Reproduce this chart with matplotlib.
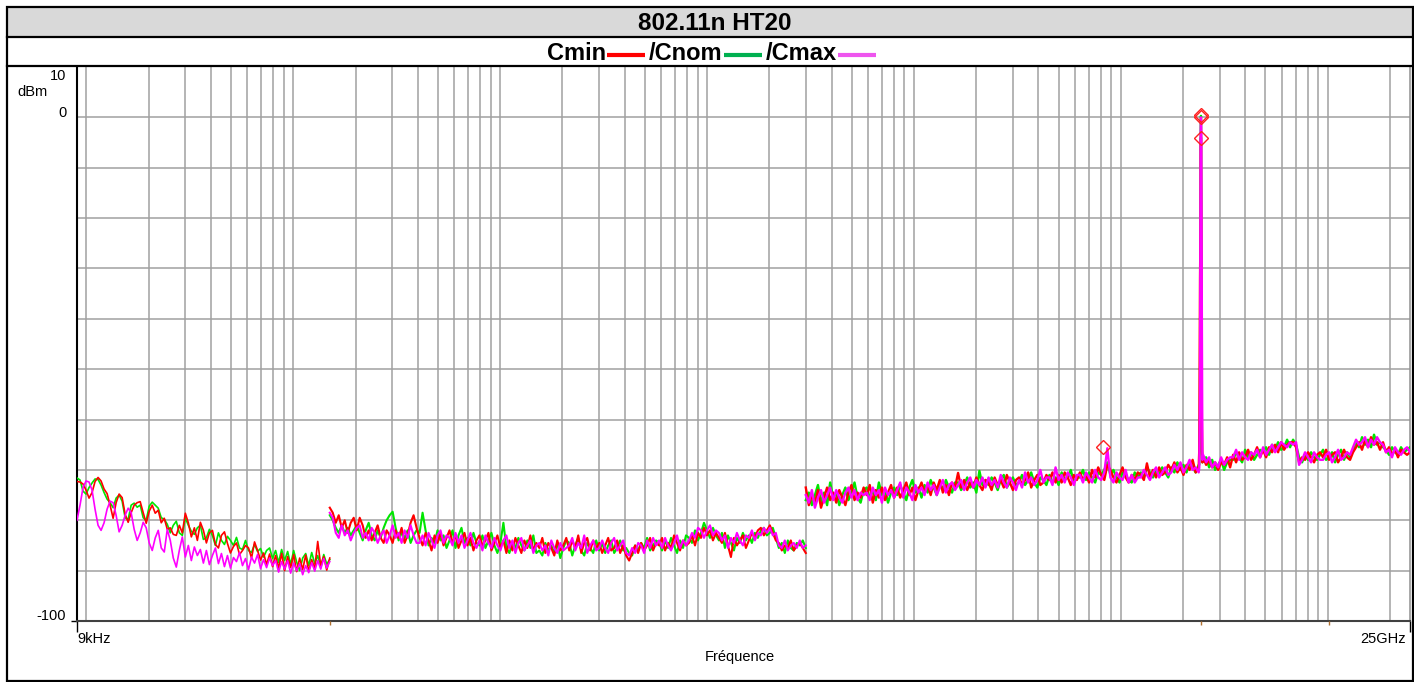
import numpy as np
import matplotlib
matplotlib.use("Agg")
import matplotlib.pyplot as plt
from matplotlib.lines import Line2D
from matplotlib.patches import Rectangle
from matplotlib.transforms import blended_transform_factory

plt.rcParams['font.family'] = ['Liberation Sans', 'DejaVu Sans']

# ---------------- data ----------------
TITLE = "802.11n HT20"
SERIES_NAMES = ["Cmin", "/Cnom", "/Cmax"]
X_LABEL = "Fréquence"
Y_UNIT = "dBm"
X_TICK_LABELS = ["9kHz", "25GHz"]
F_START = 9e3
F_STOP = 25e9

# segment edges (Hz)
seg1_range = [9e3, 150e3]
seg2_range = [150e3, 30e6]
seg3a_range = [30e6, 2.38e9]
seg3b_range = [2.5e9, 25e9]

# ---- segment 1 : 9 kHz - 150 kHz (dBm)
seg1_cmin = [-72.3,-72.4,-72.8,-74.0,-75.6,-74.5,-72.3,-71.5,-72.2,-73.8,
             -74.7,-77.0,-79.6,-76.5,-74.8,-75.5,-78.8,-80.4,-78.5,-77.0,
             -76.5,-76.3,-78.5,-80.6,-78.2,-77.0,-78.6,-78.0,-80.5,-79.6,
             -81.8,-81.5,-82.8,-83.0,-81.0,-82.5,-78.6,-80.5,-83.3,-81.5,
             -84.0,-80.4,-82.0,-84.5,-82.5,-82.0,-84.8,-85.5,-83.0,-82.3,
             -84.6,-86.5,-85.2,-84.5,-86.8,-86.0,-85.0,-85.5,-87.5,-84.3,
             -86.0,-87.9,-86.5,-88.8,-86.7,-89.2,-87.0,-89.5,-86.6,-90.0,
             -87.2,-89.4,-86.8,-90.2,-87.5,-89.8,-86.9,-90.1,-87.8,-89.6,
             -84.2,-89.0,-87.2,-89.9,-87.5]
seg1_cnom = [-71.6,-72.0,-74.2,-74.8,-73.5,-72.6,-71.8,-71.9,-73.0,-74.5,
             -75.8,-76.5,-77.5,-75.6,-75.0,-76.2,-79.5,-79.8,-77.0,-76.6,
             -77.4,-77.0,-79.5,-80.0,-77.2,-76.4,-77.0,-77.6,-79.5,-79.8,
             -80.8,-82.5,-81.0,-80.2,-82.5,-83.0,-79.5,-81.0,-82.2,-82.8,
             -81.5,-81.0,-83.8,-83.5,-81.8,-83.0,-85.0,-82.5,-84.0,-84.8,
             -83.2,-84.0,-85.0,-83.4,-85.5,-85.8,-84.0,-86.0,-86.4,-84.8,
             -86.2,-85.6,-87.3,-86.0,-85.5,-87.6,-86.0,-88.4,-85.8,-88.0,
             -86.2,-88.8,-86.0,-88.3,-90.0,-87.5,-86.6,-89.0,-86.4,-88.6,
             -87.0,-89.4,-86.8,-88.7,-87.8]
seg1_cmax = [-80.0,-77.0,-73.5,-72.2,-72.4,-74.0,-77.8,-81.0,-82.0,-80.5,
             -77.8,-76.2,-76.5,-79.0,-82.3,-81.0,-79.0,-77.6,-78.5,-81.8,
             -84.0,-82.5,-80.4,-81.5,-84.5,-86.0,-83.5,-82.0,-85.5,-86.3,
             -81.8,-84.0,-87.5,-89.3,-86.0,-83.3,-87.3,-85.0,-88.0,-85.3,
             -87.0,-85.8,-88.5,-86.0,-88.8,-87.0,-85.5,-88.6,-86.6,-89.2,
             -87.0,-89.5,-87.4,-88.2,-86.4,-89.0,-87.6,-89.8,-87.3,-88.5,
             -86.8,-89.6,-87.8,-89.4,-87.5,-89.0,-88.0,-90.3,-88.2,-89.7,
             -88.0,-90.5,-88.5,-90.0,-88.6,-90.8,-89.0,-90.4,-88.4,-90.1,
             -88.0,-89.7,-87.6,-89.5,-88.2]

# ---- segment 2 : 150 kHz - 30 MHz (dBm)
seg2_cmin = [-77.5,-78.5,-80.5,-79.0,-81.5,-80.0,-82.5,-80.5,-79.5,-82.0,
             -79.5,-81.0,-83.5,-82.0,-84.0,-82.5,-81.0,-83.5,-84.5,-82.0,
             -83.0,-84.5,-82.0,-83.5,-81.5,-84.5,-83.0,-80.5,-79.0,-81.5,
             -83.5,-85.0,-82.5,-84.0,-86.0,-83.0,-84.5,-82.5,-85.0,-83.5,
             -82.0,-84.5,-83.0,-85.5,-84.0,-82.5,-85.0,-83.5,-86.0,-84.0,
             -83.0,-85.0,-84.0,-82.5,-86.0,-84.5,-83.0,-85.5,-84.0,-86.5,
             -84.0,-86.0,-83.5,-85.0,-86.5,-84.0,-85.5,-83.0,-86.0,-84.5,
             -85.5,-83.5,-86.5,-84.5,-85.5,-87.0,-84.0,-86.0,-85.0,-83.5,
             -86.0,-84.0,-85.5,-83.0,-86.5,-84.5,-83.5,-86.0,-84.0,-85.5,
             -84.5,-86.5,-85.0,-83.5,-86.0,-85.5,-84.0,-86.5,-85.0,-87.0,
             -88.0,-86.5,-85.0,-86.5,-84.5,-86.0,-85.0,-83.5,-86.0,-84.5,
             -85.0,-83.5,-86.0,-84.5,-85.5,-83.0,-84.5,-86.0,-84.0,-85.0,
             -84.5,-83.0,-85.0,-82.5,-83.5,-81.5,-83.0,-82.0,-84.0,-82.5,
             -83.5,-84.5,-82.5,-85.0,-87.3,-83.5,-85.0,-84.0,-83.0,-85.5,
             -84.0,-82.5,-83.5,-82.0,-81.5,-83.0,-82.0,-81.0,-82.5,-84.0,
             -84.5,-86.0,-85.0,-85.5,-84.0,-86.0,-85.0,-84.5,-85.5,-86.5]
seg2_cnom = [-79.0,-80.0,-81.5,-82.5,-81.0,-82.5,-81.5,-83.0,-82.0,-81.0,
             -82.5,-84.0,-82.0,-80.5,-83.0,-84.0,-82.0,-83.5,-81.5,-80.0,
             -79.0,-78.3,-81.5,-84.0,-82.5,-83.5,-82.0,-84.5,-83.0,-82.0,
             -82.5,-78.5,-82.0,-85.0,-83.5,-84.5,-82.0,-84.0,-83.0,-85.5,
             -84.0,-82.0,-85.5,-83.0,-81.5,-84.5,-83.5,-85.0,-82.5,-84.5,
             -85.0,-83.0,-85.5,-84.0,-82.5,-85.0,-86.5,-84.5,-80.5,-85.5,
             -86.5,-84.5,-85.5,-83.5,-85.0,-86.0,-84.0,-85.5,-83.0,-86.5,
             -86.0,-87.0,-84.5,-86.0,-85.0,-86.5,-84.5,-87.5,-85.5,-84.0,
             -84.5,-87.0,-85.0,-83.5,-86.0,-87.0,-84.5,-85.5,-86.5,-84.0,
             -86.0,-84.5,-86.5,-85.0,-84.0,-86.5,-85.5,-84.0,-86.0,-85.5,
             -86.5,-87.0,-85.0,-86.0,-84.5,-85.5,-83.5,-86.0,-85.0,-84.0,
             -84.5,-86.0,-84.0,-85.5,-83.5,-85.0,-86.5,-84.0,-85.5,-83.0,
             -83.5,-84.5,-82.0,-84.0,-82.5,-80.5,-82.0,-83.5,-81.5,-83.0,
             -84.0,-82.5,-85.5,-83.0,-84.5,-86.0,-83.5,-84.5,-82.5,-84.0,
             -83.0,-84.5,-82.5,-83.5,-82.0,-81.5,-83.0,-82.5,-81.5,-83.5,
             -85.5,-84.5,-86.5,-84.0,-85.5,-86.0,-84.5,-85.0,-84.0,-85.5]
seg2_cmax = [-78.5,-79.5,-82.5,-83.5,-81.0,-83.0,-82.0,-84.0,-82.5,-81.5,
             -81.0,-83.5,-82.5,-84.0,-81.5,-82.5,-84.5,-83.0,-82.0,-84.5,
             -83.0,-81.0,-83.5,-82.5,-84.5,-82.0,-83.5,-81.0,-83.0,-84.5,
             -84.5,-83.0,-85.0,-82.5,-84.0,-85.5,-83.0,-82.0,-84.5,-83.0,
             -83.5,-85.0,-82.5,-84.5,-83.0,-85.5,-84.0,-82.5,-84.5,-85.5,
             -84.0,-86.0,-83.0,-84.5,-85.5,-83.5,-85.0,-86.0,-84.0,-83.0,
             -85.5,-84.0,-86.5,-84.5,-83.5,-86.0,-85.0,-84.0,-86.5,-85.0,
             -84.5,-86.0,-85.0,-87.0,-84.0,-85.5,-86.5,-84.5,-86.0,-85.5,
             -85.0,-83.5,-86.0,-84.5,-85.5,-83.0,-86.5,-85.0,-84.0,-86.0,
             -85.5,-84.0,-85.5,-86.5,-84.5,-83.5,-86.0,-85.0,-84.0,-86.5,
             -87.0,-85.5,-86.5,-84.5,-85.0,-86.5,-84.0,-85.5,-83.5,-85.0,
             -84.0,-85.5,-83.5,-85.0,-86.0,-84.5,-83.0,-85.5,-84.0,-85.0,
             -84.0,-82.5,-83.5,-81.5,-82.0,-83.5,-82.0,-81.0,-83.0,-82.0,
             -82.5,-84.0,-83.0,-85.5,-83.5,-84.5,-82.5,-84.0,-85.0,-83.0,
             -83.5,-82.0,-84.0,-82.5,-83.0,-81.5,-82.5,-81.5,-83.0,-82.5,
             -85.0,-85.5,-84.0,-86.0,-85.0,-84.5,-85.5,-84.0,-85.5,-85.0]

# ---- segment 3a : 30 MHz - 2.38 GHz (dBm)
seg3a_cmin = [-73.5,-77.0,-75.0,-76.5,-74.0,-77.5,-75.5,-73.5,-76.0,-74.5,
              -76.5,-74.0,-75.5,-77.0,-74.5,-73.0,-76.0,-74.5,-75.5,-73.5,
              -75.0,-73.0,-76.5,-74.0,-75.5,-73.5,-76.0,-74.5,-73.0,-75.5,
              -73.5,-75.5,-74.0,-72.5,-75.0,-73.5,-76.0,-74.0,-72.5,-74.5,
              -73.0,-75.0,-72.5,-74.0,-72.0,-74.5,-73.0,-75.0,-72.5,-73.5,
              -70.6,-73.5,-72.0,-74.0,-72.5,-73.5,-71.5,-73.0,-74.0,-72.0,
              -72.5,-74.0,-71.5,-73.0,-72.0,-73.5,-71.0,-72.5,-74.0,-72.0,
              -71.5,-73.0,-72.0,-70.5,-73.5,-72.0,-71.0,-73.0,-72.5,-71.0,
              -72.0,-70.5,-72.5,-71.0,-72.5,-70.5,-71.5,-73.0,-71.0,-72.0,
              -70.5,-72.0,-71.0,-72.5,-70.0,-71.5,-69.5,-71.0,-72.0,-69.0,
              -70.0,-71.5,-72.5,-71.0,-69.5,-71.5,-72.5,-71.0,-72.0,-70.5,
              -71.0,-72.0,-68.7,-71.5,-70.0,-71.5,-69.5,-71.0,-70.5,-69.0,
              -70.0,-68.5,-70.5,-69.5,-71.0,-69.0,-70.0,-68.0,-70.5,-69.5]
seg3a_cnom = [-76.0,-74.5,-77.0,-75.0,-73.0,-76.5,-74.5,-77.0,-72.5,-75.5,
              -74.5,-77.0,-75.0,-73.5,-76.0,-74.5,-72.5,-75.5,-76.5,-74.0,
              -73.5,-75.5,-74.0,-76.0,-72.5,-75.0,-74.0,-76.5,-74.5,-73.5,
              -75.0,-73.0,-74.5,-76.0,-73.5,-72.0,-74.5,-73.5,-75.5,-73.0,
              -74.5,-72.0,-73.5,-75.0,-72.5,-74.0,-72.0,-73.5,-74.5,-72.5,
              -72.5,-74.0,-73.0,-71.5,-73.5,-72.5,-74.5,-70.2,-73.0,-72.0,
              -73.0,-71.5,-72.5,-74.0,-72.0,-71.0,-73.5,-72.5,-71.5,-73.0,
              -72.5,-71.0,-73.0,-72.0,-70.5,-72.5,-73.5,-71.5,-72.0,-73.0,
              -71.0,-72.5,-71.5,-73.0,-70.5,-72.0,-71.5,-70.0,-72.5,-71.5,
              -71.5,-70.0,-72.0,-70.5,-71.5,-72.5,-70.5,-71.0,-70.0,-68.5,
              -71.0,-70.0,-71.5,-72.5,-70.5,-71.0,-72.0,-72.5,-70.5,-71.5,
              -70.5,-71.5,-69.5,-70.5,-71.5,-70.0,-71.0,-69.5,-70.5,-71.5,
              -69.5,-70.5,-68.5,-70.0,-69.0,-70.5,-68.5,-69.5,-70.5,-69.0]
seg3a_cmax = [-75.0,-76.5,-74.0,-77.5,-75.5,-74.0,-76.5,-75.0,-73.5,-76.0,
              -74.0,-75.5,-76.5,-74.5,-73.5,-75.5,-74.0,-76.0,-74.5,-75.0,
              -74.5,-76.0,-73.5,-75.0,-74.0,-76.5,-73.5,-75.0,-74.0,-75.5,
              -74.0,-72.5,-75.5,-73.5,-74.5,-76.0,-73.0,-74.5,-73.5,-75.0,
              -72.5,-74.0,-73.0,-75.0,-73.5,-72.0,-74.5,-73.0,-72.5,-74.0,
              -73.0,-72.0,-74.0,-72.5,-71.5,-73.5,-72.0,-73.0,-71.5,-73.5,
              -71.5,-73.0,-72.0,-73.5,-71.0,-72.5,-73.5,-71.5,-72.5,-74.0,
              -72.0,-73.5,-70.5,-72.5,-71.5,-73.0,-72.0,-70.0,-72.5,-71.5,
              -71.5,-73.0,-69.5,-72.0,-71.0,-72.5,-70.5,-71.5,-73.0,-71.0,
              -71.0,-72.5,-70.5,-71.5,-72.5,-70.0,-71.5,-72.0,-70.5,-65.7,
              -71.5,-72.5,-70.5,-71.5,-72.0,-70.0,-72.5,-71.0,-72.5,-71.5,
              -71.5,-70.0,-71.0,-72.0,-70.5,-69.5,-71.5,-70.5,-69.5,-71.0,
              -70.5,-69.0,-70.0,-68.5,-70.5,-69.5,-68.0,-70.0,-69.5,-70.5]

# ---- carrier region (Hz, dBm)
peak_f = [2.395e9, 2.415e9, 2.430e9, 2.440e9, 2.450e9, 2.465e9, 2.480e9]
peak_cmin = [-66.0, -32.0, -20.0, -4.0, -25.0, -60.0, -68.5]
peak_cnom = [-69.0, -60.0, -10.0, 0.3, -15.0, -66.0, -68.5]
peak_cmax = [-69.5, -55.0, -3.0, 0.0, -2.0, -40.0, -68.0]

# ---- segment 3b : 2.5 GHz - 25 GHz (dBm)
seg3b_cmin = [-67.5,-69.0,-68.0,-69.5,-68.5,-70.0,-68.5,-69.0,-67.5,-69.5,
              -67.0,-68.5,-66.5,-68.0,-67.5,-66.0,-68.0,-67.0,-65.5,-67.5,
              -66.0,-67.5,-65.5,-66.5,-65.0,-66.5,-64.5,-66.0,-65.0,-64.5,
              -64.5,-65.5,-68.5,-67.5,-68.0,-66.5,-67.5,-68.5,-67.0,-66.5,
              -67.5,-66.0,-68.0,-67.0,-66.5,-68.5,-67.5,-66.0,-67.5,-68.0,
              -66.5,-65.5,-64.5,-66.0,-64.0,-65.5,-63.5,-65.0,-64.5,-66.0,
              -64.5,-66.5,-65.5,-67.0,-66.0,-67.5,-66.0,-66.5,-67.0,-66.5]
seg3b_cnom = [-68.0,-67.5,-69.5,-68.0,-70.0,-69.0,-68.0,-70.0,-68.5,-68.0,
              -68.0,-66.5,-67.5,-68.5,-66.0,-67.5,-66.5,-68.0,-67.0,-66.0,
              -66.5,-65.5,-67.0,-65.0,-66.0,-64.5,-66.0,-65.5,-64.0,-65.5,
              -64.0,-65.0,-67.5,-68.5,-67.0,-68.0,-66.5,-67.5,-68.0,-67.0,
              -66.0,-68.0,-67.5,-66.5,-68.5,-67.0,-66.0,-68.0,-66.5,-67.5,
              -66.0,-64.5,-65.5,-63.5,-65.0,-64.0,-65.5,-63.0,-65.0,-64.5,
              -65.5,-66.0,-67.0,-65.5,-66.5,-67.0,-65.5,-66.5,-66.0,-65.5]
seg3b_cmax = [-67.0,-68.5,-67.5,-69.5,-68.5,-69.5,-67.5,-69.0,-68.0,-67.5,
              -67.5,-66.0,-68.0,-66.5,-67.5,-68.0,-66.5,-67.0,-66.0,-67.5,
              -65.5,-67.0,-66.0,-65.0,-66.5,-65.5,-64.5,-65.0,-65.5,-64.5,
              -65.0,-64.5,-69.0,-68.0,-66.5,-67.5,-68.5,-66.5,-67.5,-68.0,
              -68.0,-67.0,-66.5,-68.5,-67.5,-66.0,-68.0,-67.5,-66.5,-67.0,
              -65.5,-64.0,-65.0,-64.5,-63.5,-65.5,-64.0,-65.0,-63.5,-64.5,
              -65.0,-66.5,-66.0,-67.5,-65.5,-66.5,-67.0,-66.0,-65.5,-66.5]

# markers (Hz, dBm)
marker_f = [820e6, 2.44e9, 2.44e9, 2.44e9]
marker_db = [-65.5, 0.5, 0.0, -4.0]
# small sweep-boundary ticks under the axis (Hz)
boundary_f = [150e3, 2.44e9, 10.1e9]

# ---------------- styling ----------------
W, H = 1414, 682
TRACE_COLORS = {"Cmin": "#ff0000", "Cnom": "#00e600", "Cmax": "#ff00ff"}
LEGEND_COLORS = ["#ff0000", "#00b050", "#ee55ee"]
GRID_COLOR = "#a0a0a0"


def fx(px):
    return px / W


def fy(py):
    return 1 - py / H


fig = plt.figure(figsize=(W / 100, H / 100), dpi=100)
fig.patch.set_facecolor("white")

# header band
fig.add_artist(Rectangle((fx(7), fy(36.5)), fx(1413) - fx(7), fy(7) - fy(36.5),
                         transform=fig.transFigure, facecolor="#d9d9d9",
                         edgecolor="none", zorder=0))
for yy in (36.5, 65.5):
    fig.add_artist(Line2D([fx(7), fx(1413)], [fy(yy), fy(yy)], color="black",
                          lw=1.6, transform=fig.transFigure))
fig.add_artist(Rectangle((fx(7), fy(681)), fx(1413) - fx(7), fy(7) - fy(681),
                         transform=fig.transFigure, fill=False,
                         edgecolor="black", lw=1.6))
fig.text(fx(715), fy(23), TITLE, fontsize=17.5, fontweight="bold",
         ha="center", va="center")

# composite legend line
renderer = fig.canvas.get_renderer()
xcur = 547
for name, col in zip(SERIES_NAMES, LEGEND_COLORS):
    t = fig.text(fx(xcur), fy(60), name, fontsize=17, fontweight="bold",
                 ha="left", va="baseline")
    bb = t.get_window_extent(renderer)
    x0 = bb.x1 + 1
    fig.add_artist(Line2D([fx(x0), fx(x0 + 38)], [fy(55), fy(55)], color=col,
                          lw=3.0, solid_capstyle="butt",
                          transform=fig.transFigure))
    xcur = x0 + 38 + 4

# axes
ax = fig.add_axes([fx(77), fy(621), fx(1410) - fx(77), fy(67) - fy(621)])
ax.set_xscale("log")
ax.set_xlim(F_START, F_STOP)
ax.set_ylim(-100, 10)
ax.set_facecolor("white")

# grid
for dec in range(3, 11):
    for m in range(1, 10):
        f = m * 10.0 ** dec
        if F_START < f < F_STOP:
            ax.axvline(f, color=GRID_COLOR, lw=1.1, zorder=1)
for yv in range(-90, 10, 10):
    ax.axhline(yv, color=GRID_COLOR, lw=1.1, zorder=1)

# traces
segments = [
    (seg1_range, seg1_cmin, seg1_cnom, seg1_cmax, 1.2),
    (seg2_range, seg2_cmin, seg2_cnom, seg2_cmax, 1.5),
]
for rng, vmin, vnom, vmax, lw in segments:
    for vals, key in ((vnom, "Cnom"), (vmin, "Cmin"), (vmax, "Cmax")):
        f = np.geomspace(rng[0], rng[1], len(vals))
        ax.plot(f, vals, color=TRACE_COLORS[key], lw=lw, zorder=3)

# segment 3 (continuous through the carrier)
for a, p, b, key in ((seg3a_cnom, peak_cnom, seg3b_cnom, "Cnom"),
                     (seg3a_cmin, peak_cmin, seg3b_cmin, "Cmin"),
                     (seg3a_cmax, peak_cmax, seg3b_cmax, "Cmax")):
    f = np.concatenate([np.geomspace(seg3a_range[0], seg3a_range[1], len(a)),
                        np.array(peak_f),
                        np.geomspace(seg3b_range[0], seg3b_range[1], len(b))])
    v = np.concatenate([a, p, b])
    ax.plot(f, v, color=TRACE_COLORS[key], lw=1.7, zorder=3)

ax.plot(marker_f, marker_db, linestyle="none", marker="D", markersize=7,
        markerfacecolor="none", markeredgecolor="#ff2020", markeredgewidth=1.0,
        zorder=5)

# boundary ticks
ax.plot(boundary_f, [-100.3] * len(boundary_f), linestyle="none", marker="|",
        markersize=3, color="#b07030", clip_on=False, zorder=6)

# spines
ax.spines["top"].set_visible(False)
ax.spines["left"].set_color("black")
ax.spines["left"].set_linewidth(1.5)
ax.spines["bottom"].set_color("#404040")
ax.spines["bottom"].set_linewidth(1.5)
ax.spines["right"].set_color("#909090")
ax.spines["right"].set_linewidth(1.1)

ax.set_xticks([F_START, F_STOP])
ax.set_xticklabels([])
ax.xaxis.set_minor_locator(matplotlib.ticker.NullLocator())
ax.tick_params(axis="x", which="major", length=8, width=1.0, color="black",
               direction="out")
ax.set_yticks([-100])
ax.set_yticklabels([])
ax.tick_params(axis="y", length=4, width=1.0, color="black")

# y labels
tb = blended_transform_factory(ax.transAxes, ax.transData)
ax.text(-0.008, 8.3, "10", transform=tb, ha="right", va="center", fontsize=10.5)
ax.text(-0.008, 0.9, "0", transform=tb, ha="right", va="center", fontsize=10.5)
ax.text(-0.008, -99.0, "-100", transform=tb, ha="right", va="center",
        fontsize=10.5)
fig.text(fx(33), fy(92), Y_UNIT, ha="center", va="center", fontsize=10.5)

# x labels
fig.text(fx(77), fy(632), X_TICK_LABELS[0], ha="left", va="top", fontsize=10.5)
fig.text(fx(1406), fy(632), X_TICK_LABELS[1], ha="right", va="top",
         fontsize=10.5)
fig.text(fx(740), fy(650), X_LABEL, ha="center", va="top", fontsize=10.5)

fig.savefig("out.png", dpi=100)
